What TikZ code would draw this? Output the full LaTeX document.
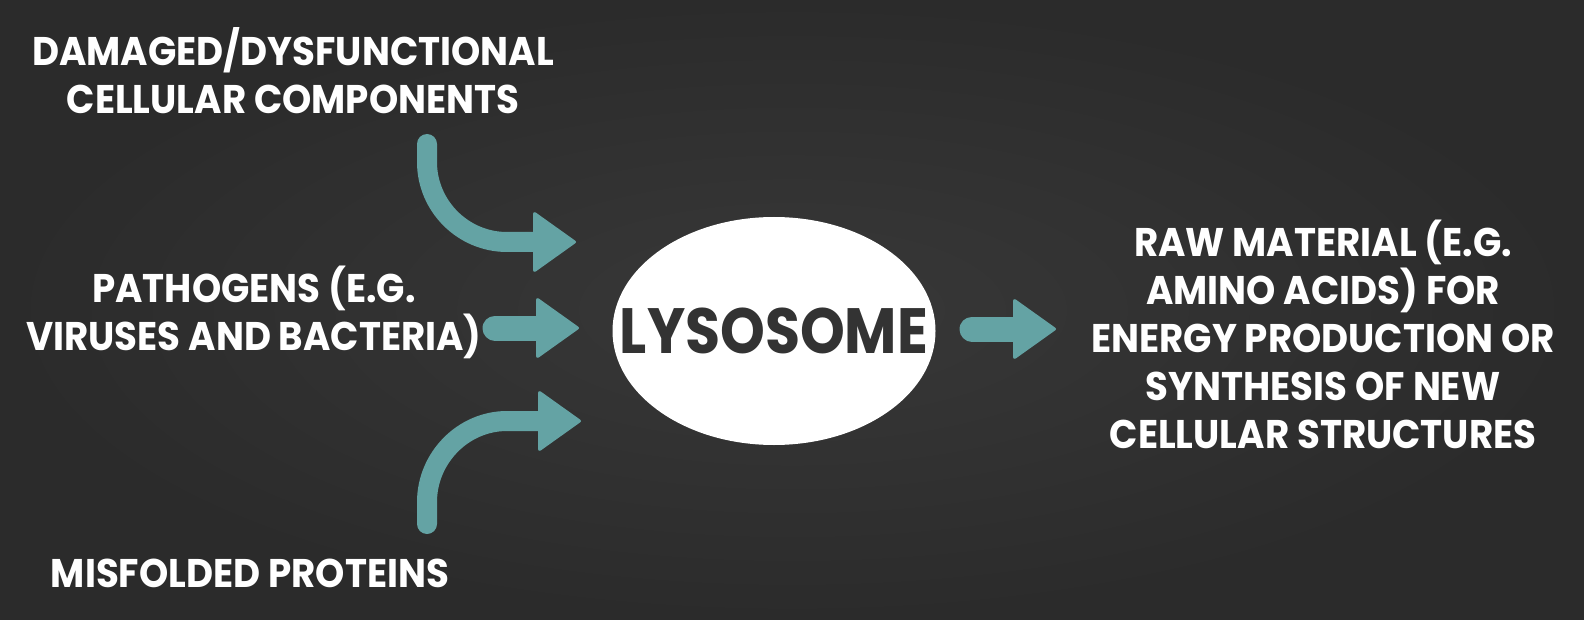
\documentclass[tikz,border=0pt]{standalone}
\usepackage{fontspec}
\usepackage{xcolor}
\usepackage{tikz}
\usetikzlibrary{shapes.geometric,arrows.meta}
\newfontfamily\spartan{Poppins}[FakeStretch=0.93]
\newfontfamily\spartanTitle{Poppins}[FakeStretch=0.89]
\definecolor{lysoBgIn}{HTML}{383838}
\definecolor{lysoBgOut}{HTML}{2B2B2B}
\definecolor{lysoTeal}{HTML}{64A3A4}
\definecolor{lysoInk}{HTML}{333333}

\tikzset{
  lyso note/.style={white, align=center, inner sep=0pt,
    font=\spartan\bfseries\fontsize{20}{24}\selectfont},
  lyso cell/.style={ellipse, fill=white, inner xsep=-20pt, inner ysep=0pt,
    minimum width=161.5pt, minimum height=114pt, text=lysoInk,
    font=\spartanTitle\bfseries\fontsize{32}{36}\selectfont},
  flow/.style={lysoTeal, line width=10pt, line cap=round,
    -{Triangle[length=22pt,width=31pt,line width=1.5pt,round]}},
}

\begin{document}
\begin{tikzpicture}[x=0.5pt,y=-0.5pt]
  \shade[inner color=lysoBgIn, outer color=lysoBgOut] (0,0) rectangle (1584,620);
  \useasboundingbox (0,0) rectangle (1584,620);

  \node[lyso cell] (lyso) at (774,331) {LYSOSOME};

  \node[lyso note] (dmg) at (293,71) {DAMAGED/DYSFUNCTIONAL\\CELLULAR COMPONENTS};
  \node[lyso note] (pathogen) at (254,312) {PATHOGENS (E.G.\\VIRUSES AND BACTERIA)};
  \node[lyso note] (misfold) at (250,573) {MISFOLDED PROTEINS};
  \node[lyso note] (raw) at (1323,334) {RAW MATERIAL (E.G.\\AMINO ACIDS) FOR\\ENERGY PRODUCTION OR\\SYNTHESIS OF NEW\\CELLULAR STRUCTURES};

  \coordinate (dmgFrom) at (427,144);
  \coordinate (dmgTo) at (576,242);
  \coordinate (pathogenFrom) at (495,328);
  \coordinate (pathogenTo) at (579,328);
  \coordinate (misfoldFrom) at (427,524);
  \coordinate (misfoldTo) at (581,421);
  \coordinate (rawFrom) at (972,329);
  \coordinate (rawTo) at (1056,329);

  \draw[flow] (dmgFrom) -- ++(0,18) .. controls +(0,44) and +(-44,0) .. ++(80,80) -- (dmgTo);
  \draw[flow, line width=12.5pt] (pathogenFrom) -- (pathogenTo);
  \draw[flow] (misfoldFrom) -- ++(0,-22) .. controls +(0,-44) and +(-44,0) .. ++(80,-81) -- (misfoldTo);
  \draw[flow, line width=12.5pt] (rawFrom) -- (rawTo);
\end{tikzpicture}
\end{document}
